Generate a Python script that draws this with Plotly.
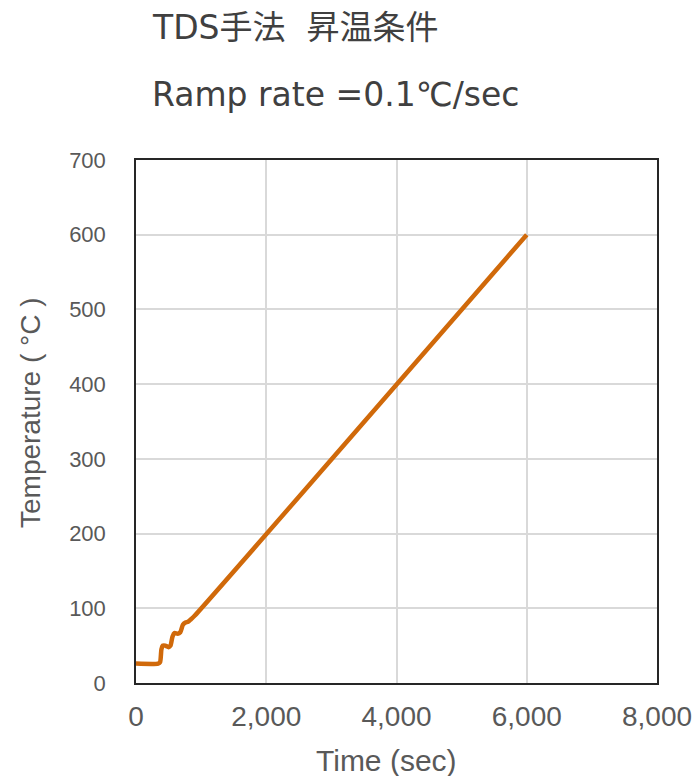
import plotly.graph_objects as go

time_sec = [0, 340, 370, 390, 410, 450, 500, 530, 560, 590, 640, 680, 720, 760, 800, 840, 900, 6000]
temp_c = [26, 26, 28, 45, 50, 50, 48, 50, 62, 67, 66, 68, 78, 81, 82, 85, 90, 600]
x_ticks = [0, 2000, 4000, 6000, 8000]
y_ticks = [0, 100, 200, 300, 400, 500, 600, 700]
title_lines = ["TDS手法\u00a0\u00a0昇温条件", "Ramp rate =0.1℃/sec"]
x_title = "Time (sec)"
y_title = "Temperature ( °C )"

fig = go.Figure()
fig.add_trace(go.Scatter(x=time_sec, y=temp_c, mode="lines",
                         line=dict(color="#D0690A", width=4.5, shape="spline", smoothing=0.6),
                         showlegend=False))

sans = "Liberation Sans, Arial, sans-serif"
L, R, T, B, W, H = 136, 35, 160, 93, 692, 776
pw, ph = W - L - R, H - T - B
fig.update_layout(
    width=W, height=H,
    margin=dict(l=L, r=R, t=T, b=B),
    paper_bgcolor="white", plot_bgcolor="white",
    xaxis=dict(range=[0, 8000], tickvals=x_ticks, tickformat=",d", automargin=False,
               showgrid=True, gridcolor="#D9D9D9", gridwidth=1.5,
               showline=True, linecolor="#262626", linewidth=1.5, mirror=True,
               ticks="outside", ticklen=8, tickcolor="rgba(0,0,0,0)",
               ticklabeloverflow="allow",
               tickfont=dict(family=sans, size=28, color="#595959"), zeroline=False),
    yaxis=dict(range=[0, 700], tickvals=y_ticks, automargin=False,
               showgrid=True, gridcolor="#D9D9D9", gridwidth=1.5,
               showline=True, linecolor="#262626", linewidth=1.5, mirror=True,
               ticks="outside", ticklen=24, tickcolor="rgba(0,0,0,0)",
               tickfont=dict(family=sans, size=22, color="#595959"), zeroline=False),
)
# axis titles
fig.add_annotation(text=x_title, xref="paper", yref="paper",
                   x=(386 - L) / pw, y=(H - B - 760) / ph, xanchor="center", yanchor="middle",
                   showarrow=False, font=dict(family=sans, size=30, color="#595959"))
fig.add_annotation(text=y_title, xref="paper", yref="paper", textangle=-90,
                   x=(30 - L) / pw, y=(H - B - 413) / ph, xanchor="center", yanchor="middle",
                   showarrow=False, font=dict(family=sans, size=28, color="#595959"))
for i, line in enumerate(title_lines):
    fig.add_annotation(text=line, xref="paper", yref="paper",
                       x=(150 - L) / pw, y=1 + (T - (27 + i * 67)) / ph,
                       xanchor="left", yanchor="middle", showarrow=False,
                       font=dict(family="DejaVu Sans, Noto Sans CJK JP, sans-serif", size=33, color="#404040"))

fig.write_html("out.html")
